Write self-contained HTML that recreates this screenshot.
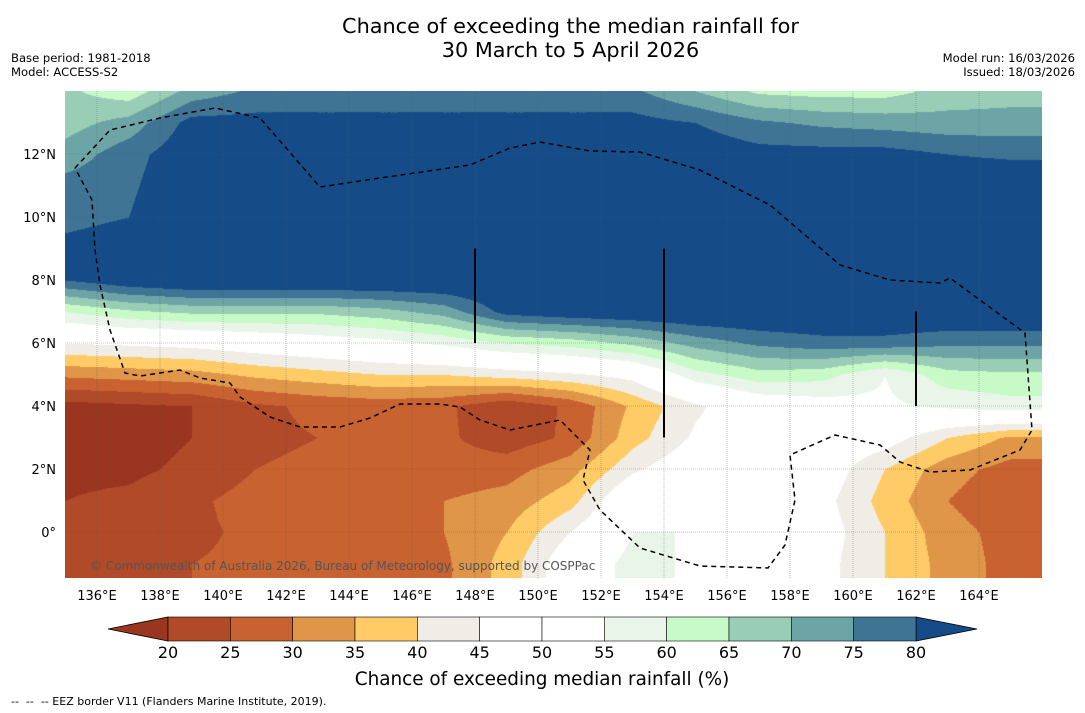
<!DOCTYPE html>
<html><head><meta charset="utf-8"><style>
body{margin:0;background:#fff;width:1085px;height:713px;position:relative;font-family:"DejaVu Sans","Liberation Sans",sans-serif;overflow:hidden}
.t{position:absolute;white-space:nowrap;color:#000}
</style></head><body>
<div class="t" style="left:0;width:1141px;text-align:center;top:14px;font-size:20.8px;line-height:24px">Chance of exceeding the median rainfall for<br>30 March to 5 April 2026</div>
<div class="t" style="left:11px;top:51px;font-size:11.6px;line-height:14px">Base period: 1981-2018<br>Model: ACCESS-S2</div>
<div class="t" style="right:10px;top:51px;font-size:11.6px;line-height:14px;text-align:right">Model run: 16/03/2026<br>Issued: 18/03/2026</div>
<canvas id="map" width="977" height="487" style="position:absolute;left:65px;top:91px"></canvas>
<svg id="ov" width="1085" height="713" style="position:absolute;left:0;top:0"></svg>
<div class="t" style="left:11px;top:695px;font-size:11px">--&nbsp; --&nbsp; -- EEZ border V11 (Flanders Marine Institute, 2019).</div>
<script>
const levels=[20,25,30,35,40,45,50,55,60,65,70,75,80];
const colors=['#9a3520','#b04a28','#c96231','#e09648','#fecb66','#efede6','#ffffff','#ffffff','#eaf5ea','#c8fac8','#9acdb6','#6da5a6','#3f7494','#154c88'];
const gridLons=[135,137,139,141,143,145,147,149,151,153,155,157,159,161,163,165];
const gridLats=[14,13,12,11,10,9,8,7,6,5,4,3,2,1,0,-1,-2];
const values=[
[66,62,72,76,76,76,76,76,76,76,70,64,63,63,67,68],
[68,72,82,82,82,82,82,82,82,82,80,76,74,73,72,72],
[72,78,84,84,84,84,84,84,84,84,84,82,82,82,80,79],
[77,79,85,85,85,85,85,85,85,85,85,85,85,85,85,85],
[78,80,86,86,86,86,86,86,86,86,86,86,86,86,86,86],
[82,84,86,86,86,86,86,86,86,86,86,86,86,86,86,86],
[80,84,86,86,86,86,86,86,86,86,86,86,86,86,86,86],
[60,64,66,66,66,68,72,82,84,85,86,86,86,86,86,86],
[45,46,47,49,51,53,56,60,62,66,72,76,78,78,76,76],
[31,32,33,36,38,40,40,42,44,47,58,63,62,55,63,64],
[18,19,20,24,26,27,26,21,26,36,44,50,52,54,56,58],
[18,18,20,24,25,26,26,22,26,38,46,50,50,48,40,34],
[19,19,21,25,26,27,27,28,33,44,50,50,49,40,32,28],
[20,21,24,27,28,29,30,32,38,52,53,50,47,38,30,26],
[20,21,24,26,27,28,30,35,45,55,55,50,48,40,32,28],
[20,21,25,26,27,27,29,37,50,57,54,49,47,40,33,28],
[20,21,25,26,27,27,29,37,50,57,54,49,47,40,33,28]];
const lonTicks=[136,138,140,142,144,146,148,150,152,154,156,158,160,162,164];
const latTicks=[12,10,8,6,4,2,0];
const cbTicks=[20,25,30,35,40,45,50,55,60,65,70,75,80];

const X0=65.5,PX=31.5,Y0=91,LAT0=14;
const xOf=lon=>X0+(lon-135)*PX, yOf=lat=>Y0+(LAT0-lat)*PX;
function val(lon,lat){
  let fi=(lon-gridLons[0])/2, fj=(gridLats[0]-lat);
  fi=Math.max(0,Math.min(gridLons.length-1.001,fi)); fj=Math.max(0,Math.min(gridLats.length-1.001,fj));
  const i=Math.floor(fi),j=Math.floor(fj),a=fi-i,b=fj-j;
  return values[j][i]*(1-a)*(1-b)+values[j][i+1]*a*(1-b)+values[j+1][i]*(1-a)*b+values[j+1][i+1]*a*b;
}
const rgb=colors.map(c=>[parseInt(c.slice(1,3),16),parseInt(c.slice(3,5),16),parseInt(c.slice(5,7),16)]);
const cv=document.getElementById('map'),ctx=cv.getContext('2d');
const img=ctx.createImageData(cv.width,cv.height);
for(let py=0;py<cv.height;py++)for(let px=0;px<cv.width;px++){
  const lon=135+(px+65-X0)/PX, lat=LAT0-(py)/PX;
  const v=val(lon,lat);let k=0;while(k<levels.length&&v>=levels[k])k++;
  const c=rgb[k],o=(py*cv.width+px)*4;img.data[o]=c[0];img.data[o+1]=c[1];img.data[o+2]=c[2];img.data[o+3]=255;
}
ctx.putImageData(img,0,0);

const NS='http://www.w3.org/2000/svg',ov=document.getElementById('ov');
const FF='DejaVu Sans, Liberation Sans, sans-serif';
function mk(tag,attrs,parent){const e=document.createElementNS(NS,tag);for(const k in attrs)e.setAttribute(k,attrs[k]);(parent||ov).appendChild(e);return e;}
lonTicks.forEach(l=>{const e=mk('line',{x1:xOf(l),x2:xOf(l),y1:91,y2:578,stroke:'#555','stroke-width':0.6,'stroke-dasharray':'1,1','stroke-opacity':0.6});


const t=mk('text',{x:xOf(l),y:600,'text-anchor':'middle','font-size':13,'font-family':FF});t.textContent=l+'°E';

});
latTicks.forEach(l=>{const e=mk('line',{x1:65,x2:1042,y1:yOf(l),y2:yOf(l),stroke:'#555','stroke-width':0.6,'stroke-dasharray':'1,1','stroke-opacity':0.6});


const t=mk('text',{x:56,y:yOf(l)+5,'text-anchor':'end','font-size':13,'font-family':FF});t.textContent=(l===0?'0°':l+'°N');

});
const eez=[[75,168],[110,130],[160,118],[215,108],[260,118],[320,187],[380,178],[470,165],[510,148],[540,142],[590,151],[640,152],[700,170],[770,205],[840,265],[890,280],[940,283],[950,278],[1025,333],[1032,430],[1020,450],[970,470],[930,472],[900,462],[880,445],[835,435],[790,455],[795,500],[785,545],[768,568],[700,566],[640,548],[600,510],[583,480],[590,450],[560,420],[510,430],[480,420],[460,407],[440,404],[400,404],[370,418],[340,427],[300,427],[270,417],[240,397],[230,383],[200,378],[180,370],[140,376],[125,373],[110,330],[100,285],[95,250],[92,200],[75,168]];
const eb=mk('polyline',{points:eez.map(p=>p.join(',')).join(' '),fill:'none',stroke:'#000','stroke-width':1.5,'stroke-dasharray':'5,4'});


[[148,9,6],[154,9,3],[162,7,4]].forEach(s=>{const e=mk('line',{x1:xOf(s[0]),x2:xOf(s[0]),y1:yOf(s[1]),y2:yOf(s[2]),stroke:'#000','stroke-width':2});

});
const cp=mk('text',{x:90,y:570,'font-size':12,fill:'#555','font-family':FF});cp.textContent='© Commonwealth of Australia 2026, Bureau of Meteorology, supported by COSPPac';


const cbX=k=>168+(k-20)*(748/60),cy=617,ch=24;
const lt=mk('polygon',{points:`108,${cy+ch/2} ${cbX(20)},${cy} ${cbX(20)},${cy+ch}`,fill:colors[0],stroke:'#000','stroke-width':0.8});


const rt=mk('polygon',{points:`977,${cy+ch/2} ${cbX(80)},${cy} ${cbX(80)},${cy+ch}`,fill:colors[13],stroke:'#000','stroke-width':0.8});


for(let i=0;i<levels.length-1;i++){const r=mk('rect',{x:cbX(levels[i]),y:cy,width:cbX(levels[i+1])-cbX(levels[i]),height:ch,fill:colors[i+1],stroke:'#000','stroke-width':0.6});

}
cbTicks.forEach(k=>{const t=mk('text',{x:cbX(k),y:658,'text-anchor':'middle','font-size':16,'font-family':FF});t.textContent=k;

});
const ct=mk('text',{x:542,y:685,'text-anchor':'middle','font-size':18.4,'font-family':FF});ct.textContent='Chance of exceeding median rainfall (%)';


</script>
</body></html>
